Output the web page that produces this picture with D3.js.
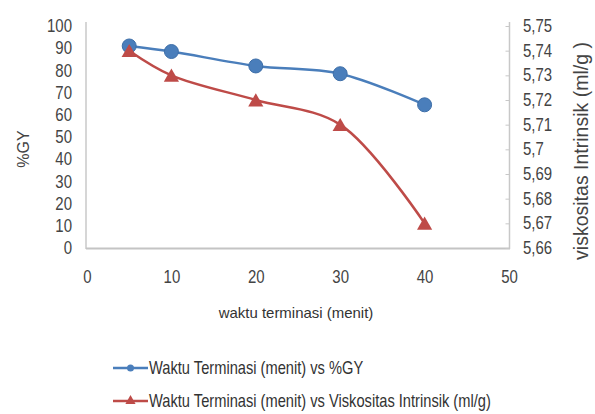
<!DOCTYPE html>
<html><head><meta charset="utf-8">
<script src="https://cdn.jsdelivr.net/npm/d3@7"></script>
<style>
html,body{margin:0;padding:0;background:#fff;}
svg{display:block;font-family:"Liberation Sans",Arial,sans-serif;}
</style></head>
<body>
<svg id="chart" width="595" height="414"></svg>
<script>
const waktu = [5, 10, 20, 30, 40];
const gy = [91, 88.5, 82, 78.5, 64.5];
const visko = [5.74, 5.73, 5.72, 5.71, 5.67];
const xTicks = [0, 10, 20, 30, 40, 50];
const leftTicks = [0, 10, 20, 30, 40, 50, 60, 70, 80, 90, 100];
const rightTicks = [5.66, 5.67, 5.68, 5.69, 5.70, 5.71, 5.72, 5.73, 5.74, 5.75];
const seriesNames = ["Waktu Terminasi (menit) vs %GY", "Waktu Terminasi (menit) vs Viskositas Intrinsik (ml/g)"];
const colors = ["#4a7ebb", "#be4b48"];

const svg = d3.select("#chart");
const x = d3.scaleLinear().domain([0, 50]).range([87, 509]);
const yL = d3.scaleLinear().domain([0, 100]).range([248, 26]);
const yR = d3.scaleLinear().domain([5.66, 5.75]).range([248, 26]);
const fmtComma = v => String(+v.toFixed(2)).replace(".", ",");
const SX = 0.857;
const tickFont = 17.5;

// axes lines
svg.append("line").attr("x1", 86).attr("x2", 86).attr("y1", 22).attr("y2", 249)
  .attr("stroke", "#c8c8c8").attr("stroke-width", 1.5);
svg.append("line").attr("x1", 509.5).attr("x2", 509.5).attr("y1", 22).attr("y2", 249)
  .attr("stroke", "#c8c8c8").attr("stroke-width", 1.5);
svg.append("line").attr("x1", 86).attr("x2", 510).attr("y1", 248.5).attr("y2", 248.5)
  .attr("stroke", "#c4c4c4").attr("stroke-width", 2);

function styleTicks(g) {
  g.select(".domain").remove();
  g.selectAll("text").attr("font-size", tickFont).attr("fill", "#444")
    .attr("transform", `scale(${SX},1)`);
}

// left axis labels
const gL = svg.append("g").attr("transform", "translate(86,0)");
gL.call(d3.axisLeft(yL).tickValues(leftTicks).tickSize(0).tickPadding(14 / SX));
styleTicks(gL);

// right axis
const gR = svg.append("g").attr("transform", "translate(509.5,0)");
gR.call(d3.axisRight(yR).tickValues(rightTicks).tickFormat(fmtComma).tickSize(0).tickPadding(13.5 / SX));
styleTicks(gR);
gR.selectAll(".tick").append("line").attr("x1", -4).attr("x2", 0).attr("stroke", "#c8c8c8");

// x axis
const gX = svg.append("g").attr("transform", "translate(0,248)");
gX.call(d3.axisBottom(x).tickValues(xTicks).tickSize(0).tickPadding(23));
gX.select(".domain").remove();
gX.selectAll(".tick text").attr("font-size", tickFont).attr("fill", "#444")
  .attr("transform", `scale(${SX},1)`);

// axis titles
svg.append("text").attr("transform", "translate(29,149) rotate(-90)")
  .attr("text-anchor", "middle").attr("font-size", 16).attr("fill", "#444").text("%GY");
svg.append("text").attr("transform", "translate(588,151) rotate(-90)")
  .attr("text-anchor", "middle").attr("font-size", 19.5).attr("fill", "#444")
  .text("viskositas Intrinsik (ml/g )");
svg.append("text").attr("transform", "translate(296,318) scale(1.07,1)").attr("text-anchor", "middle")
  .attr("font-size", 14).attr("fill", "#333")
  .text("waktu terminasi (menit)");

// lines
const curve = d3.curveCatmullRom.alpha(0.5);
const lineL = d3.line().x((d, i) => x(waktu[i])).y(d => yL(d)).curve(curve);
const lineR = d3.line().x((d, i) => x(waktu[i])).y(d => yR(d)).curve(curve);
svg.append("path").attr("d", lineL(gy)).attr("fill", "none").attr("stroke", colors[0]).attr("stroke-width", 2.5);
svg.append("path").attr("d", lineR(visko)).attr("fill", "none").attr("stroke", colors[1]).attr("stroke-width", 2.5);

// markers
svg.selectAll("circle.m").data(gy).enter().append("circle")
  .attr("cx", (d, i) => x(waktu[i])).attr("cy", d => yL(d)).attr("r", 7)
  .attr("fill", colors[0]).attr("stroke", "#3d6ea8").attr("stroke-width", 1);
const tri = d3.symbol().type(d3.symbolTriangle).size(100);
svg.selectAll("path.t").data(visko).enter().append("path")
  .attr("d", tri).attr("transform", (d, i) => `translate(${x(waktu[i])},${yR(d) + 2})`)
  .attr("fill", colors[1]);

// legend
const leg = svg.append("g");
const legY = [368, 401];
seriesNames.forEach((name, i) => {
  leg.append("line").attr("x1", 113).attr("x2", 148).attr("y1", legY[i]).attr("y2", legY[i])
    .attr("stroke", colors[i]).attr("stroke-width", 2.5);
  if (i === 0) {
    leg.append("circle").attr("cx", 130.5).attr("cy", legY[i]).attr("r", 3.5).attr("fill", colors[i]);
  } else {
    leg.append("path").attr("d", d3.symbol().type(d3.symbolTriangle).size(45))
      .attr("transform", `translate(130.5,${legY[i]})`).attr("fill", colors[i]);
  }
  leg.append("text").attr("transform", `translate(149,${legY[i] + 6}) scale(0.815,1)`)
    .attr("font-size", 18).attr("fill", "#333")
    .text(name);
});
</script>
</body></html>
